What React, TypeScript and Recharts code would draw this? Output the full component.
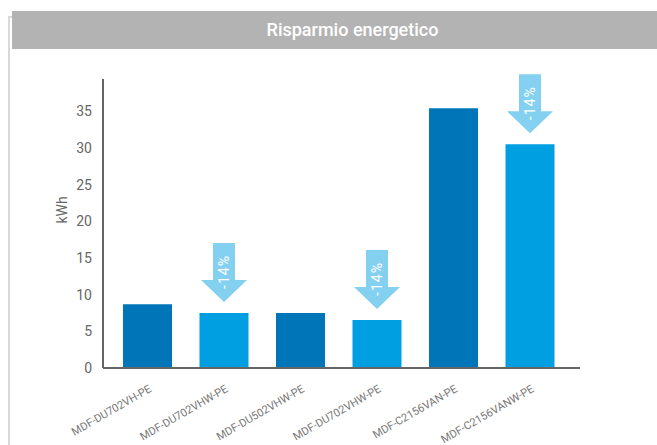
import { Bar, BarChart, Cell, LabelList, XAxis, YAxis } from 'recharts';

const models = [
  'MDF-DU702VH-PE',
  'MDF-DU702VHW-PE',
  'MDF-DU502VHW-PE',
  'MDF-DU702VHW-PE',
  'MDF-C2156VAN-PE',
  'MDF-C2156VANW-PE',
];
const consumption = [8.7, 7.5, 7.5, 6.55, 35.4, 30.5];
const savings = ['', '-14%', '', '-14%', '', '-14%'];
const yTicks = [0, 5, 10, 15, 20, 25, 30, 35];

const DARK = '#0076b9';
const LIGHT = '#009fe1';
const ARROW = '#84d0f0';
const FONT = 'Roboto, "Noto Sans", sans-serif';

const data = models.map((model, i) => ({ model, kwh: consumption[i], saving: savings[i] }));

function ModelTick({ x, y, payload }: any) {
  return (
    <text
      x={x + 5}
      y={y + 15}
      transform={`rotate(-30, ${x + 5}, ${y + 15})`}
      textAnchor="end"
      fontSize={11}
      fontFamily={FONT}
      fill="#777"
    >
      {payload.value}
    </text>
  );
}

// downward arrow drawn above the bar, with the saving written inside
function SavingArrow({ x, y, width, value }: any) {
  if (!value) return null;
  const cx = x + width / 2;
  const tip = y - 11;
  const shaftW = 22;
  const headW = 46;
  const headH = 22;
  const total = 59;
  const top = tip - total;
  const neck = tip - headH;
  const pts = [
    [cx - shaftW / 2, top],
    [cx + shaftW / 2, top],
    [cx + shaftW / 2, neck],
    [cx + headW / 2, neck],
    [cx, tip],
    [cx - headW / 2, neck],
    [cx - shaftW / 2, neck],
  ]
    .map((p) => p.join(','))
    .join(' ');
  const ty = tip - 30;
  return (
    <g>
      <polygon points={pts} fill={ARROW} />
      <text
        x={cx}
        y={ty}
        transform={`rotate(-90, ${cx}, ${ty})`}
        textAnchor="middle"
        dominantBaseline="central"
        fontSize={14}
        fontFamily={FONT}
        letterSpacing={1}
        fill="#fff"
      >
        {value}
      </text>
    </g>
  );
}

export default function App() {
  return (
    <div style={{ position: 'absolute', left: 0, top: 0, width: 657, height: 445, background: '#fff', fontFamily: FONT }}>
      <div style={{ position: 'absolute', left: 8, top: 16, width: 2, height: 429, background: '#d9d9d9' }} />
      <div style={{ position: 'absolute', left: 8, top: 16, width: 5, height: 2, background: '#d9d9d9' }} />
      <div
        style={{
          position: 'absolute',
          left: 12,
          top: 11,
          width: 645,
          height: 38,
          background: '#b3b3b3',
          color: '#fff',
          fontSize: 18,
          fontWeight: 500,
          lineHeight: '38px',
          textAlign: 'center',
          paddingLeft: 36,
          boxSizing: 'border-box',
        }}
      >
        Risparmio energetico
      </div>
      <div style={{ position: 'absolute', left: 0, top: 0 }}>
        <BarChart width={657} height={445} data={data} margin={{ top: 79, right: 77, bottom: 0, left: 0 }}>
          <XAxis
            dataKey="model"
            interval={0}
            height={77}
            tick={<ModelTick />}
            tickLine={false}
            axisLine={{ stroke: '#666', strokeWidth: 2 }}
            padding={{ left: 6, right: 12 }}
          />
          <YAxis
            width={103}
            domain={[0, 39.4]}
            ticks={yTicks}
            tickLine={false}
            axisLine={{ stroke: '#666', strokeWidth: 2 }}
            tick={{ fontSize: 14, fill: '#666', fontFamily: FONT }}
            tickMargin={5}
            label={{ value: 'kWh', angle: -90, position: 'insideLeft', offset: 62, fontSize: 14, fill: '#666', fontFamily: FONT }}
          />
          <Bar dataKey="kwh" barSize={49} isAnimationActive={false}>
            {data.map((d, i) => (
              <Cell key={i} fill={d.saving ? LIGHT : DARK} />
            ))}
            <LabelList dataKey="saving" content={<SavingArrow />} />
          </Bar>
        </BarChart>
      </div>
    </div>
  );
}
